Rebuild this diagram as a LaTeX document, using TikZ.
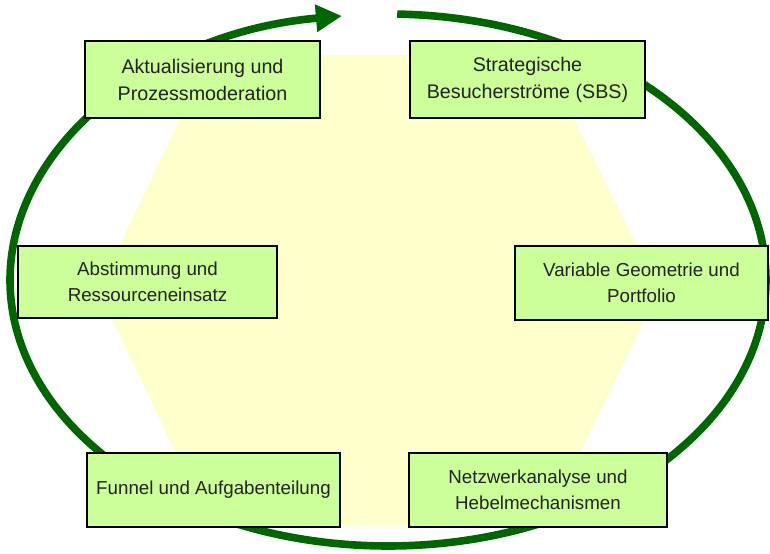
\documentclass[tikz,border=0pt]{standalone}
\usepackage{fontspec}
\setmainfont{Liberation Sans}
\usetikzlibrary{arrows.meta}
\definecolor{lgreen}{HTML}{CCFF99}
\definecolor{dgreen}{HTML}{006600}
\definecolor{lyellow}{HTML}{FFFFCC}
\definecolor{dtext}{HTML}{222222}

\begin{document}
\begin{tikzpicture}[
    x=0.03cm, y=0.03cm,
    block/.style={rectangle, draw=black, line width=1.3pt, fill=lgreen, text=dtext, align=center, inner sep=0pt, font=\fontsize{16}{22.5}\selectfont, minimum height=2.22cm},
    topblock/.style={block, font=\fontsize{16.8}{23}\selectfont, minimum width=7.05cm, minimum height=2.31cm},
    roundarr/.style={-{Triangle[length=0.78cm, width=0.78cm]}, line width=6.5pt, dgreen},
]
\useasboundingbox (0,0) rectangle (770,-554);

% Background hexagon
\fill[lyellow] (211,-55) -- (542,-55) -- (659,-290) -- (545,-525) -- (210,-525) -- (98,-290) -- cycle;

% Cycle arrow
\coordinate (c) at (388,-280);
\draw[roundarr] (c) ++(88.6:378 and 266) arc[start angle=88.6, end angle=-263, x radius=378, y radius=266];

% Blocks
\node[topblock] (update) at (202.5,-79.5) {Aktualisierung und\\Prozessmoderation};
\node[topblock] (sbs) at (527.5,-79.5) {Strategische\\Besucherströme (SBS)};
\node[block, minimum width=7.77cm, minimum height=2.16cm] (tuning) at (147.5,-282) {Abstimmung und\\Ressourceneinsatz};
\node[block, minimum width=7.59cm] (geometry) at (641.5,-283) {Variable Geometrie und\\Portfolio};
\node[block, minimum width=7.59cm] (funnel) at (213.5,-490) {Funnel und Aufgabenteilung};
\node[block, minimum width=7.74cm] (network) at (538,-490) {Netzwerkanalyse und\\Hebelmechanismen};

\end{tikzpicture}
\end{document}
